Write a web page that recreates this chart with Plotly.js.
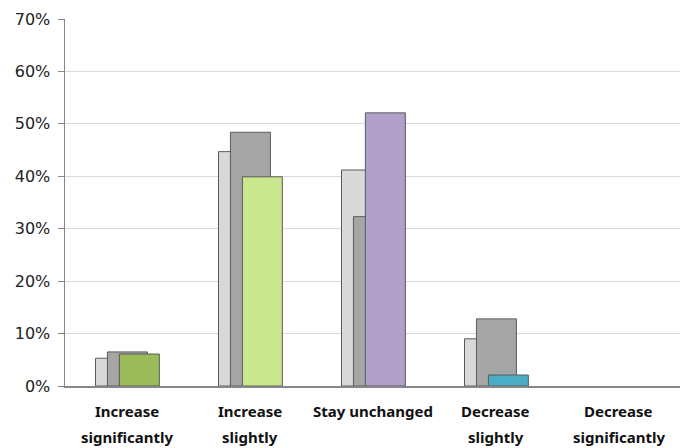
<!DOCTYPE html>
<html>
<head>
<meta charset="utf-8">
<script src="https://cdn.plot.ly/plotly-3.0.1.min.js"></script>
<style>html,body{margin:0;padding:0;background:#fff;}</style>
</head>
<body>
<div id="chart" style="width:686px;height:448px;"></div>
<script>
var categories = ["Increase<br>significantly", "Increase<br>slightly", "Stay unchanged", "Decrease<br>slightly", "Decrease<br>significantly"];
var seriesBack = [5.3, 44.7, 41.2, 9.0, 0];
var seriesMiddle = [6.5, 48.4, 32.3, 12.8, 0];
var seriesFront = [6.1, 39.9, 52.1, 2.1, 0];
var frontColors = ["#9bbb59", "#c9e78c", "#b1a0c9", "#4bacc6", "#4bacc6"];
var yTickVals = [0, 10, 20, 30, 40, 50, 60, 70];
var yTickText = ["0%", "10%", "20%", "30%", "40%", "50%", "60%", "70%"];

var W = 0.325;
function lineFor(vals) {
  return {color: "#5a5a5a", width: vals.map(function (v) { return v > 0 ? 1 : 0; })};
}
var traces = [
  {type: "bar", x: categories, y: seriesBack, width: W, offset: -0.252,
   marker: {color: "#d9d9d9", line: lineFor(seriesBack)}, hoverinfo: "y"},
  {type: "bar", x: categories, y: seriesMiddle, width: W, offset: -0.155,
   marker: {color: "#a6a6a6", line: lineFor(seriesMiddle)}, hoverinfo: "y"},
  {type: "bar", x: categories, y: seriesFront, width: W, offset: -0.058,
   marker: {color: frontColors, line: lineFor(seriesFront)}, hoverinfo: "y"}
];

var annotations = [];
categories.forEach(function (c) {
  var lines = c.split("<br>");
  lines.forEach(function (t, i) {
    annotations.push({
      x: c, xref: "x", y: 0, yref: "paper",
      yanchor: "middle", xanchor: "center",
      yshift: -25 - 25.5 * i,
      text: t, showarrow: false,
      font: {family: "Noto Sans", size: 15, color: "#111111", weight: "bold"}
    });
  });
});

var layout = {
  width: 686, height: 448,
  margin: {l: 65, r: 6, t: 19, b: 62},
  barmode: "overlay",
  showlegend: false,
  paper_bgcolor: "#ffffff",
  plot_bgcolor: "#ffffff",
  annotations: annotations,
  xaxis: {
    type: "category",
    showline: true, linecolor: "#868686", linewidth: 1.5,
    ticks: "", showgrid: false, showticklabels: false,
    range: [-0.5, 4.5]
  },
  yaxis: {
    range: [0, 70],
    tickvals: yTickVals, ticktext: yTickText,
    showline: true, linecolor: "#868686", linewidth: 1.5,
    ticks: "outside", ticklen: 6, tickcolor: "#868686",
    showgrid: true, gridcolor: "#d9d9d9", gridwidth: 1,
    zeroline: false,
    ticklabelstandoff: 4,
    tickfont: {family: "DejaVu Sans", size: 16, color: "#222222"}
  }
};

Plotly.newPlot("chart", traces, layout, {displayModeBar: false, staticPlot: true});
</script>
</body>
</html>
